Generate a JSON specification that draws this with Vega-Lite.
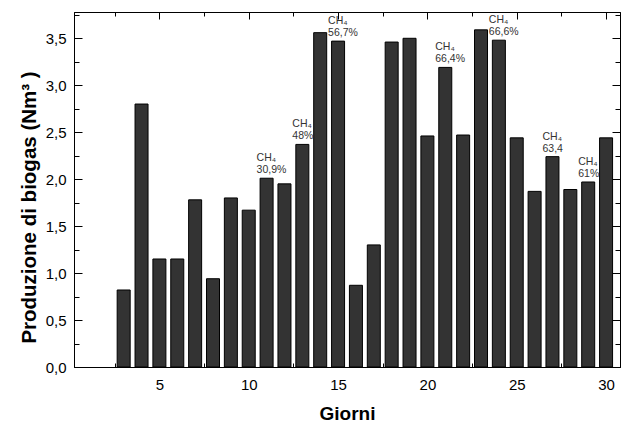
{
  "$schema": "https://vega.github.io/schema/vega-lite/v6.json",
  "autosize": {"type": "none"},
  "width": 546,
  "height": 355,
  "padding": {"left": 74, "top": 12, "right": 2, "bottom": 56},
  "background": "white",
  "config": {
    "view": {"stroke": "black", "strokeWidth": 1},
    "font": "Liberation Sans",
    "axis": {"domainColor": "black", "tickColor": "black", "grid": false, "labelColor": "black", "titleColor": "black", "zindex": 1}
  },
  "data": {
    "values": [
      {"day": 3, "value": 0.82},
      {"day": 4, "value": 2.80},
      {"day": 5, "value": 1.15},
      {"day": 6, "value": 1.15},
      {"day": 7, "value": 1.78},
      {"day": 8, "value": 0.94},
      {"day": 9, "value": 1.80},
      {"day": 10, "value": 1.67},
      {"day": 11, "value": 2.01, "gas": "CH₄", "pct": "30,9%"},
      {"day": 12, "value": 1.95},
      {"day": 13, "value": 2.37, "gas": "CH₄", "pct": "48%"},
      {"day": 14, "value": 3.56},
      {"day": 15, "value": 3.47, "gas": "CH₄", "pct": "56,7%"},
      {"day": 16, "value": 0.87},
      {"day": 17, "value": 1.30},
      {"day": 18, "value": 3.46},
      {"day": 19, "value": 3.50},
      {"day": 20, "value": 2.46},
      {"day": 21, "value": 3.19, "gas": "CH₄", "pct": "66,4%"},
      {"day": 22, "value": 2.47},
      {"day": 23, "value": 3.59},
      {"day": 24, "value": 3.48, "gas": "CH₄", "pct": "66,6%"},
      {"day": 25, "value": 2.44},
      {"day": 26, "value": 1.87},
      {"day": 27, "value": 2.24, "gas": "CH₄", "pct": "63,4"},
      {"day": 28, "value": 1.89},
      {"day": 29, "value": 1.97, "gas": "CH₄", "pct": "61%"},
      {"day": 30, "value": 2.44}
    ]
  },
  "resolve": {"axis": {"x": "independent", "y": "independent"}},
  "layer": [
    {
      "mark": {"type": "bar", "size": 13, "fill": "#333333", "stroke": "black", "strokeWidth": 1},
      "encoding": {
        "x": {
          "field": "day", "type": "quantitative",
          "scale": {"domain": [0.5, 30.5], "nice": false, "zero": false},
          "axis": {
            "orient": "bottom",
            "title": "Giorni",
            "titleFontSize": 19,
            "titleFontWeight": "bold",
            "titlePadding": 12,
            "values": [2.5, 5, 7.5, 10, 12.5, 15, 17.5, 20, 22.5, 25, 27.5, 30],
            "labelExpr": "datum.value % 5 === 0 ? datum.value + '' : ''",
            "labelFontSize": 15,
            "labelPadding": 17,
            "tickSize": -7,
            "tickDash": {"condition": {"test": "datum.value % 5 === 0", "value": [10, 0]}, "value": [4, 20]},
            "labelFlush": false,
            "labelOverlap": false
          }
        },
        "y": {
          "field": "value", "type": "quantitative",
          "scale": {"domain": [0, 3.78], "nice": false},
          "axis": {
            "orient": "left",
            "title": "Produzione di biogas (Nm³ )",
            "titleFontSize": 20.5,
            "titleFontWeight": "bold",
            "titlePadding": 6,
            "titleY": 195,
            "values": [0, 0.25, 0.5, 0.75, 1, 1.25, 1.5, 1.75, 2, 2.25, 2.5, 2.75, 3, 3.25, 3.5, 3.75],
            "labelExpr": "abs(datum.value * 2 - round(datum.value * 2)) < 0.001 ? replace(format(datum.value, '.1f'), '.', ',') : ''",
            "labelFontSize": 15,
            "labelPadding": 16,
            "tickSize": -8,
            "tickDash": {"condition": {"test": "abs(datum.value * 2 - round(datum.value * 2)) < 0.001", "value": [10, 0]}, "value": [5, 20]},
            "labelFlush": false,
            "labelOverlap": false
          }
        }
      }
    },
    {
      "transform": [{"filter": "datum.pct != null"}],
      "mark": {"type": "text", "align": "left", "baseline": "bottom", "dx": -10, "dy": -3, "fontSize": 10.5, "fill": "#333333"},
      "encoding": {
        "x": {
          "field": "day", "type": "quantitative",
          "axis": {
            "orient": "top", "title": null, "labels": false,
            "values": [2.5, 5, 7.5, 10, 12.5, 15, 17.5, 20, 22.5, 25, 27.5, 30],
            "tickSize": -7,
            "tickDash": {"condition": {"test": "datum.value % 5 === 0", "value": [10, 0]}, "value": [4, 20]}
          }
        },
        "y": {
          "field": "value", "type": "quantitative",
          "axis": {
            "orient": "right", "title": null, "labels": false,
            "values": [0, 0.25, 0.5, 0.75, 1, 1.25, 1.5, 1.75, 2, 2.25, 2.5, 2.75, 3, 3.25, 3.5, 3.75],
            "tickSize": -8,
            "tickDash": {"condition": {"test": "abs(datum.value * 2 - round(datum.value * 2)) < 0.001", "value": [10, 0]}, "value": [5, 20]}
          }
        },
        "text": {"field": "pct"}
      }
    },
    {
      "transform": [{"filter": "datum.gas != null"}],
      "mark": {"type": "text", "align": "left", "baseline": "bottom", "dx": -10, "dy": -15, "fontSize": 10.5, "fill": "#333333"},
      "encoding": {
        "x": {"field": "day", "type": "quantitative", "axis": null},
        "y": {"field": "value", "type": "quantitative", "axis": null},
        "text": {"field": "gas"}
      }
    }
  ]
}
